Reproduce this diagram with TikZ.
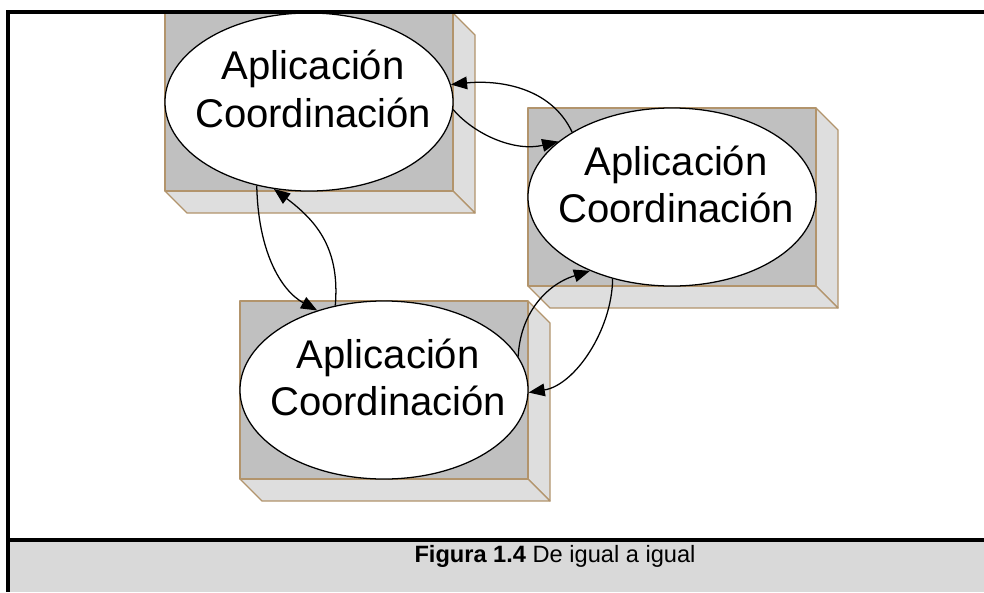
\documentclass[tikz,border=0pt]{standalone}
\usepackage{fontspec}
\setmainfont{Liberation Sans}
\usetikzlibrary{shapes.geometric,arrows.meta}
\definecolor{boxedge}{RGB}{178,148,108}
\definecolor{boxfront}{RGB}{192,192,192}
\definecolor{boxside}{RGB}{222,222,222}
\definecolor{capband}{RGB}{217,217,217}

\begin{document}
\begin{tikzpicture}
  [x=0.025cm, y=-0.025cm,
   app/.style={ellipse, draw=black, line width=0.9pt, fill=white, inner sep=0pt,
               minimum width=7.2cm, minimum height=4.45cm},
   apptext/.style={align=center, inner sep=0pt, font=\fontsize{28.5}{34}\selectfont},
   face/.style={draw=boxedge, line width=0.9pt, line join=round},
   link/.style={line width=0.9pt, -{Triangle[length=11.5pt,width=9pt]}}]
  \useasboundingbox (0,0) rectangle (984,592);
  \fill[capband] (8,540) rectangle (984,592);
  % the three blocks
  \foreach \x/\y in {309/102, 672/197, 384/390} {
    \filldraw[face, fill=boxside] (\x+144,\y-89) -- ++(22,22) -- ++(0,178) -- ++(-22,-22) -- cycle;
    \filldraw[face, fill=boxside] (\x-144,\y+89) -- ++(22,22) -- ++(288,0) -- ++(-22,-22) -- cycle;
    \filldraw[face, fill=boxfront] (\x-144,\y-89) rectangle (\x+144,\y+89);
  }
  \node[app] (c1) at (309,102) {};
  \node[app] (c2) at (672,197) {};
  \node[app] (c3) at (384,390) {};
  \node[apptext] (t1) at ([xshift=3pt,yshift=9pt]c1) {Aplicación\\Coordinación};
  \node[apptext] (t2) at ([xshift=3pt,yshift=9pt]c2) {Aplicación\\Coordinación};
  \node[apptext] (t3) at ([xshift=3pt,yshift=9pt]c3) {Aplicación\\Coordinación};
  % links
  \draw[link] (c2.147) .. controls (550,85) and (495,80) .. (c1.7);
  \draw[link] (c1.-3) .. controls (475,135) and (515,152) .. (c2.154);
  \draw[link] (c1.238) .. controls (258,250) and (280,290) .. (c3.130);
  \draw[link] (c3.120) .. controls (340,250) and (318,222) .. (c1.248);
  \draw[link] (c3.14) .. controls (520,315) and (545,285) .. (c2.222);
  \draw[link] (c2.234) .. controls (612,330) and (575,385) .. (c3.359);
  % frame and caption
  \draw[line width=2.2pt] (984,12) -- (8,12) -- (8,592);
  \draw[line width=2.2pt] (8,540) -- (984,540);
  \node[anchor=base, inner sep=0pt, font=\fontsize{16.8}{20}\selectfont] (cap) at (555,562)
    {\textbf{Figura 1.4} De igual a igual};
\end{tikzpicture}
\end{document}
